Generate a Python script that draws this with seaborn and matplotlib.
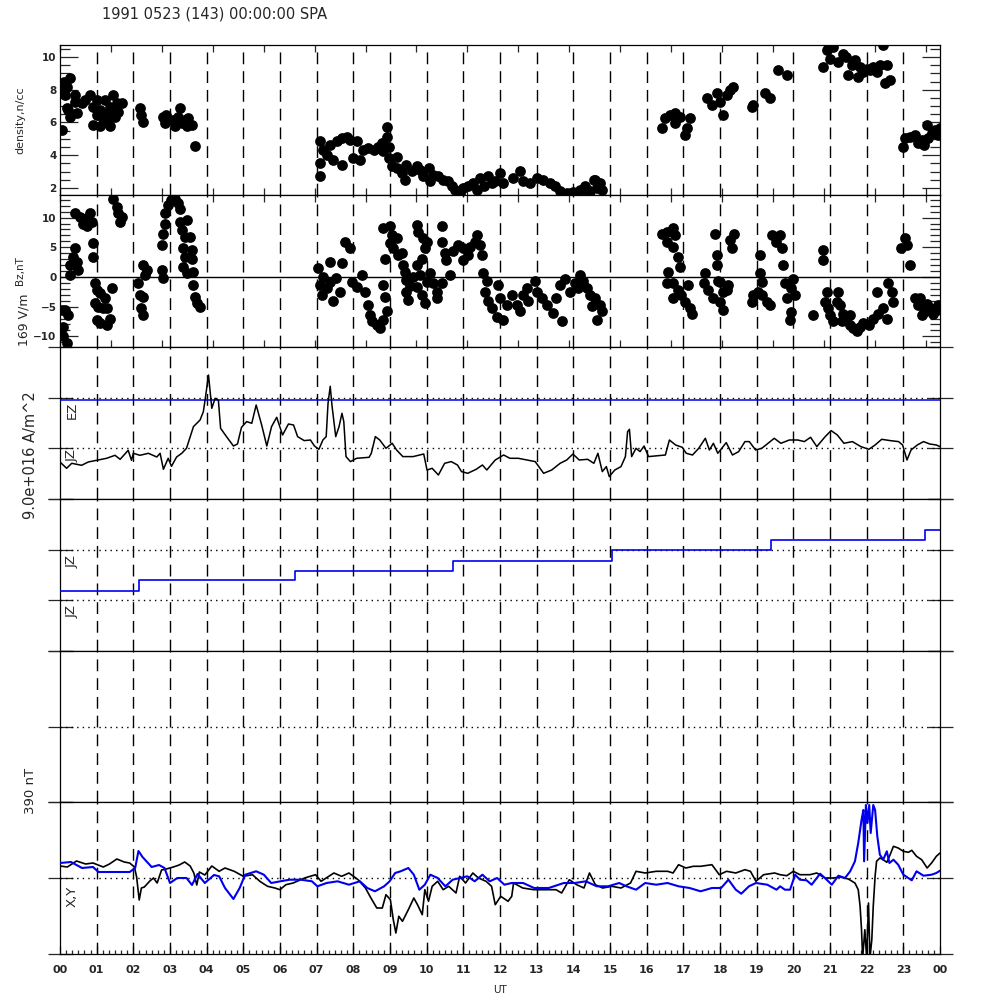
import matplotlib
matplotlib.use("Agg")
import matplotlib.pyplot as plt
import seaborn as sns
import numpy as np

sns.set_theme(style="white")
plt.rcParams['font.family'] = ['DejaVu Sans']

# ---------------- data (hours UT) ----------------
dens_t = [0.05,0.05,0.1,0.18,0.27,0.22,0.27,0.41,0.45,0.41,0.18,0.13,
          0.82,0.68,0.59,1.0,0.91,1.0,0.91,1.09,1.18,1.09,1.23,1.36,1.36,1.45,1.55,1.59,1.5,1.68,1.32,1.27,
          2.18,2.22,2.27,
          2.82,2.86,2.9,3.08,3.13,3.27,3.23,3.32,3.41,3.5,3.59,3.45,3.68,
          7.09,7.09,7.09,7.18,7.27,7.36,7.45,7.55,7.68,7.68,7.82,7.91,8.0,8.09,8.18,8.27,8.41,8.55,8.68,8.77,
          8.82,8.91,8.93,8.96,8.96,9.05,9.18,9.18,9.32,9.41,9.45,9.59,9.73,9.82,9.91,10.05,10.09,10.18,10.32,
          10.45,10.59,10.68,10.77,10.91,11.0,11.14,11.27,11.36,11.45,11.55,11.68,11.77,11.86,12.0,12.09,12.36,
          12.55,12.64,12.82,13.0,13.18,13.36,13.5,13.64,13.82,14.0,14.18,14.32,14.45,14.59,14.73,14.77,14.36,
          14.55,14.64,
          16.41,16.5,16.64,16.77,16.77,16.91,17.05,17.09,17.18,
          17.64,17.77,17.91,18.0,18.09,18.18,18.27,18.36,18.86,18.9,19.23,19.36,19.59,19.82,
          20.82,20.91,21.0,21.09,21.23,21.36,21.45,21.5,21.59,21.68,21.77,21.82,21.91,22.0,22.09,22.18,22.27,
          22.36,22.45,22.5,22.55,22.64,
          23.0,23.05,23.18,23.32,23.41,23.5,23.55,23.64,23.68,23.77,23.86,23.95,24.0]
dens_v = [5.55,7.98,8.48,8.18,8.69,6.76,6.35,7.27,6.55,7.66,6.86,7.66,
          7.66,7.37,7.17,7.37,6.96,6.47,5.86,5.76,6.27,6.76,7.37,6.96,5.76,7.66,7.17,6.66,6.35,7.17,6.55,6.15,
          6.86,6.45,6.05,
          6.35,5.96,6.45,6.15,5.76,6.86,6.35,5.96,6.15,6.25,5.86,5.76,4.55,
          4.84,2.71,3.52,4.33,4.03,4.64,3.72,4.84,3.42,5.04,5.14,4.94,3.83,4.84,3.72,4.33,4.43,4.33,4.53,4.74,
          4.23,5.71,5.14,4.53,3.83,3.32,3.92,3.22,2.91,2.51,3.42,3.01,3.32,3.12,2.71,3.22,2.41,2.81,2.71,
          2.51,2.41,2.1,1.9,1.7,2.0,2.1,2.31,1.9,2.61,2.1,2.71,2.31,2.41,2.91,2.31,2.61,
          3.01,2.41,2.31,2.61,2.51,2.31,2.1,1.8,1.7,1.75,1.9,2.1,1.8,2.51,2.31,1.9,1.9,
          2.51,2.0,
          5.65,6.26,6.46,6.56,5.95,6.35,5.24,5.65,6.26,
          7.47,7.07,7.78,7.27,6.46,7.67,7.98,8.18,6.96,7.07,7.78,7.47,9.19,8.89,
          9.39,10.41,9.9,10.61,9.7,10.21,10.0,8.89,9.5,9.8,8.78,9.39,9.09,9.29,9.19,9.39,9.09,
          9.5,10.71,8.38,9.5,8.59,
          4.53,5.04,5.14,5.24,4.74,4.94,4.64,5.85,5.04,5.34,5.55,5.24,5.65]

bz_t = [0.05,0.13,0.09,0.09,0.18,0.22,0.27,0.27,0.36,0.41,0.45,0.5,0.41,0.55,0.64,0.73,0.82,0.86,0.73,
        0.91,0.91,0.95,1.0,1.09,0.95,1.04,1.18,1.0,1.09,1.27,1.36,1.23,1.41,1.27,1.45,1.55,1.59,1.64,1.68,
        2.14,2.18,2.27,2.22,2.27,2.27,2.32,2.36,
        2.77,2.82,2.77,2.82,2.86,2.86,2.95,3.04,3.13,3.23,3.27,3.27,3.32,3.41,3.45,3.54,3.59,3.36,3.41,3.36,
        3.45,3.64,3.64,3.68,3.73,3.82,3.59,
        7.04,7.09,7.14,7.18,7.27,7.36,7.36,7.45,7.54,7.68,7.64,7.77,7.9,7.95,8.09,8.23,8.32,8.41,8.45,8.5,
        8.64,8.73,8.82,8.91,8.86,8.82,8.86,8.82,9.0,9.05,9.0,9.09,9.18,9.23,9.32,9.36,9.41,9.45,9.45,9.5,
        9.54,9.64,9.73,9.77,9.91,10.0,9.95,9.86,9.73,9.82,9.73,9.86,9.95,10.0,10.09,10.18,10.27,10.27,10.41,
        10.41,10.41,10.5,10.54,10.64,10.73,10.86,11.0,11.0,11.14,11.18,11.32,11.36,11.45,11.5,11.54,11.64,
        11.59,11.68,11.77,11.91,12.09,12.0,11.95,12.18,12.32,12.45,12.55,12.64,12.73,12.77,12.95,13.0,13.14,
        13.27,13.45,13.54,13.64,13.68,13.77,13.91,14.04,14.18,14.27,14.36,14.45,14.59,14.73,14.77,14.64,
        14.5,14.14,
        16.41,16.55,16.73,16.77,16.55,16.73,16.86,16.91,16.59,16.55,16.73,16.86,16.95,17.13,16.73,17.04,
        17.18,17.23,17.86,17.91,17.91,18.37,18.27,18.32,17.59,17.55,17.68,17.82,18.0,18.09,18.18,18.23,
        18.0,18.09,17.95,
        19.09,19.09,19.14,19.04,18.86,18.91,19.14,19.27,19.36,19.41,19.54,19.64,19.68,19.73,19.77,19.82,
        19.95,19.91,20.0,19.95,20.05,
        20.54,20.82,20.82,20.91,20.86,20.95,21.0,21.09,21.23,21.27,21.36,21.45,21.55,21.64,21.73,21.82,
        21.91,22.05,22.18,22.32,22.27,22.45,22.55,22.59,22.68,22.73,21.18,21.32,21.55,
        22.95,23.05,23.09,23.18,23.32,23.41,23.45,23.55,23.64,23.73,23.82,23.91,23.95,23.5]
bz_v = [-5.6,-5.6,-8.35,-10.0,-11.2,-6.4,0.34,2.0,3.4,4.8,2.6,1.2,10.7,10.1,9.0,9.9,10.7,9.3,8.5,
        5.7,3.4,-1.1,-2.2,-2.7,-4.4,-5.0,-5.3,-7.2,-7.8,-8.1,-7.0,-3.6,-1.9,-5.3,13.2,11.8,10.7,9.3,10.1,
        -1.1,-3.0,-3.3,-5.3,-6.4,2.0,0.34,1.2,
        1.2,-0.2,5.4,7.3,9.0,10.7,12.1,13.0,13.2,12.4,11.5,9.3,7.9,6.8,9.6,6.8,4.5,4.8,3.4,1.7,
        0.6,0.9,-1.3,-3.3,-4.4,-5.0,3.1,
        1.46,-1.34,-3.0,0.04,-1.9,2.6,-0.8,-4.1,-0.2,2.3,-2.5,5.9,4.8,-0.8,-1.7,0.3,-2.5,-4.7,-6.4,-7.5,
        -8.1,-8.6,-7.2,-5.8,-3.3,-1.3,3.1,8.2,8.5,7.1,5.7,4.8,6.5,3.7,4.0,2.0,0.9,-0.5,-2.5,-3.9,
        -1.6,0.04,8.7,7.6,6.5,5.9,4.8,3.1,2.0,0.3,-1.7,-3.0,-4.4,-0.8,0.6,-1.1,-2.5,-3.6,-1.1,
        8.5,5.9,4.0,2.9,0.3,4.3,5.4,2.9,4.8,3.7,5.1,5.9,7.1,5.4,3.7,0.6,-0.6,
        -2.5,-4.1,-5.3,-6.7,-7.2,-3.6,-1.3,-4.7,-3.0,-4.7,-5.8,-3.0,-1.9,-4.1,-0.6,-2.5,-3.6,
        -4.7,-6.1,-3.6,-1.3,-7.5,-0.3,-2.5,-1.1,0.3,-0.6,-1.9,-3.0,-3.6,-4.7,-5.8,-7.2,
        -4.9,-1.9,
        7.3,7.6,8.2,7.1,5.9,5.1,3.4,1.7,0.9,-1.1,-1.1,-2.2,-3.1,-1.4,-3.6,-4.2,
        -5.3,-6.2,7.3,3.7,2.0,7.3,6.2,4.8,0.6,-1.1,-2.2,-3.6,-0.8,-2.5,-2.2,-1.4,
        -4.2,-5.6,-0.6,
        3.7,0.6,-0.8,-2.5,-4.2,-3.1,-3.1,-4.2,-4.8,7.1,5.9,7.1,4.8,2.0,-1.1,-3.6,
        -5.9,-7.2,-0.3,-1.9,-3.1,
        -6.4,4.5,2.8,-2.5,-4.2,-5.3,-6.4,-7.5,-2.5,-4.8,-6.2,-7.0,-8.1,-8.6,-9.1,-8.4,
        -7.8,-8.1,-7.0,-6.2,-2.5,-5.3,-7.0,-1.1,-2.5,-4.2,-4.2,-7.5,-6.4,
        4.8,6.5,5.4,2.0,-3.6,-4.8,-3.6,-5.9,-4.5,-5.3,-6.2,-5.6,-4.8,-6.4]

# JZ trace (panel 3, units: one division = 50.7)
jz_t = [0,0.18,0.32,0.59,0.77,1.0,1.27,1.5,1.64,1.86,1.95,2.0,2.18,2.41,2.64,2.73,2.82,2.95,3.04,3.18,
        3.32,3.45,3.64,3.82,3.91,3.97,4.05,4.14,4.23,4.32,4.38,4.54,4.73,4.84,4.95,5.09,5.23,5.35,5.5,5.64,
        5.77,5.91,6.07,6.23,6.37,6.48,6.66,6.83,6.94,7.06,7.17,7.26,7.31,7.37,7.42,7.52,7.61,7.69,7.74,7.8,
        7.92,8.09,8.43,8.49,8.6,8.72,8.89,9.06,9.18,9.35,9.63,9.92,10.01,10.15,10.32,10.49,10.67,10.84,10.95,
        11.12,11.35,11.52,11.64,11.87,12.1,12.27,12.5,12.73,12.96,13.19,13.41,13.64,13.82,13.99,14.16,14.39,
        14.56,14.67,14.79,14.9,14.98,15.13,15.3,15.42,15.48,15.53,15.59,15.71,15.82,15.93,16.05,16.22,16.51,
        16.62,16.79,16.97,17.08,17.25,17.42,17.6,17.71,17.82,17.94,18.17,18.34,18.51,18.68,18.8,18.97,19.14,
        19.31,19.48,19.66,19.89,20.12,20.3,20.47,20.64,20.87,21.03,21.2,21.38,21.61,21.84,22.06,22.23,22.41,
        22.64,22.87,22.98,23.1,23.21,23.38,23.55,23.72,23.9,24.0]
jz_v = [-13.7,-20,-15,-17,-13.7,-12,-10,-7,-11,-2,-12,-5,-7,-5,-8.7,-5,-21,-10,-18,-8.7,
        -5,0,21.7,28.3,36.7,51.7,73.3,40,50,48,20,11.7,2.3,4.3,21,26.7,25,43.3,23.3,2.3,
        21.7,31,13.3,24.3,23.3,11.7,7.7,8.3,2.3,-1,8.3,11.7,45,62,42,11.7,21.7,35,26.7,-8.3,
        -13.3,-10,-9,-5,11.7,8.3,0,5,-1.7,-8.3,-8.3,-5.7,-21.7,-20,-26.7,-15,-13.3,-16.7,-23.3,
        -25,-21,-16.7,-21.7,-11.7,-6.7,-10,-10,-11.7,-13.3,-25,-21.7,-15,-11.7,-5.7,-11.7,-11,
        -15,-5,-23.3,-18.3,-28.3,-21.7,-18.3,-8.3,16.7,19,-8.3,0,-3.3,2.3,-8.3,-7.7,-6.7,
        8.3,3.3,1,-5,-6.7,0,10,-1.7,5,-5,5.7,-6.7,-3.3,6.7,6.7,-1.7,0,
        5,10,5,8.3,8.3,6.7,11,1.7,11.7,17.7,13.3,5,6.7,1.7,-1,3.3,9,
        7.7,6.7,3.3,-11.7,-1.7,3.3,6.7,4.3,3.3,1.7]
ez_level = 48.7

# JZ step trace (panel 4, units: divisions)
step_t = [0, 2.15, 6.41, 10.72, 15.05, 19.39, 23.6, 24.0]
step_v = [1.18, 1.40, 1.58, 1.78, 1.99, 2.19, 2.39, 2.39]

# X (black) and Y (blue) magnetometer traces (panel 6, 76 units = 390 nT)
bx_t = [0.0,0.2,0.45,0.7,0.9,1.18,1.35,1.55,1.75,1.9,2.03,2.09,2.16,2.22,2.3,2.45,2.55,2.65,2.77,2.9,
        3.09,3.25,3.4,3.55,3.65,3.73,3.8,3.95,4.14,4.34,4.5,4.75,5.0,5.25,5.45,5.66,5.86,6.0,6.16,6.36,
        6.67,6.97,7.12,7.47,7.68,7.88,8.13,8.33,8.48,8.64,8.79,8.89,9.01,9.09,9.16,9.24,9.34,9.5,9.65,9.75,
        9.88,9.95,10.05,10.15,10.3,10.45,10.6,10.8,10.9,11.06,11.26,11.41,11.62,11.77,11.87,12.02,12.22,
        12.32,12.37,12.62,12.92,13.22,13.53,13.68,13.89,14.09,14.29,14.44,14.6,14.8,15.05,15.3,15.56,15.71,
        15.96,16.26,16.57,16.72,16.87,17.07,17.27,17.47,17.78,17.98,18.18,18.43,18.68,18.83,18.98,19.19,
        19.49,19.64,19.82,20.0,20.18,20.45,20.64,20.86,21.09,21.27,21.5,21.68,21.77,21.82,21.86,21.89,21.95,
        22.0,22.05,22.09,22.14,22.18,22.23,22.27,22.36,22.45,22.55,22.64,22.73,22.86,23.0,23.14,23.23,23.36,
        23.5,23.65,23.77,23.9,24.0]
bx_v = [12,11,17,14,15,11,14,19,16,15,11,1,-22,-10,-9,-3,0,-5,8,9,
        11,13,16,12,5,-7,6,3,12,6.7,10,6.7,1.7,3.3,-3.3,-8.3,-10,-11.7,-6.7,-5,
        0,3.3,-3.3,5,1.7,5,-1.7,-10,-20,-30,-30,-16.7,-21.7,-41.7,-55,-38.3,-43.3,-31.7,-20,-26.7,
        -36.7,-11.7,-23.3,-8.3,-3.3,-11.7,-8.3,-15,1.7,-5,5,0,-3.3,-8.3,-26.7,-18.3,-23.3,
        -18.3,-5,-10,-11.7,-11.7,-11.7,-15,-1.7,-6.7,-10,5,-6.7,-10,-8.3,-10,-5,6.7,
        5,6.7,6.7,5,13.3,10,11.7,11.7,13.3,3.3,6.7,5,8.3,6.7,-3.3,3.3,
        5,3.3,2.3,6.7,3.3,3.3,5,0,0,1,-1,-5,-11.7,-28,-51.7,-80,-51.7,
        -80,-25,-80,-61.7,-28,1.7,16.7,20,18.3,15.7,23.3,31.7,30,26.7,25.7,27.7,21.7,
        18.3,10,15,21.7,25]
by_t = [0.0,0.3,0.6,0.9,1.05,1.5,1.9,2.05,2.14,2.25,2.4,2.5,2.7,2.85,3.0,3.2,3.45,3.6,3.75,3.95,
        4.2,4.34,4.5,4.73,4.9,5.05,5.35,5.56,5.76,6.01,6.26,6.57,6.87,7.02,7.27,7.57,7.88,8.18,8.38,8.59,
        8.84,8.99,9.14,9.29,9.5,9.65,9.8,9.95,10.1,10.3,10.51,10.71,10.91,11.11,11.31,11.52,11.72,11.92,
        12.12,12.32,12.63,12.93,13.33,13.74,14.04,14.34,14.64,14.95,15.25,15.45,15.71,15.96,16.26,16.57,
        16.87,17.17,17.47,17.78,18.03,18.23,18.43,18.58,18.79,18.98,19.29,19.54,19.64,19.77,19.91,20.05,
        20.18,20.36,20.5,20.73,20.86,21.05,21.23,21.41,21.55,21.68,21.77,21.86,21.91,21.93,21.98,22.02,
        22.07,22.11,22.18,22.23,22.29,22.36,22.45,22.55,22.62,22.73,22.86,23.0,23.23,23.36,23.55,23.77,
        23.9,24.0]
by_v = [15,16,10,11,6,6,6,10,27,21,15,11,13,10,-5,0,0,-7,4,-5,
        3,1.7,-10,-21,-10,3.3,6.7,3.3,-5,-3.3,-1.7,-1.7,-3.3,-8.3,-5,-3.3,-6.7,-3.3,-10,-13.3,
        -8.3,-3.3,5,6.7,10,3.3,-11.7,-6.7,3.3,0,-8.3,-1.7,0,1.7,-3.3,3.3,-3.3,0,
        -6.7,-5,-5,-10,-10,-5,-5,-3.3,-8.3,-8.3,-5,-8.3,-11.7,-5,-6.7,-5,
        -8.3,-10,-13.3,-10,-10,-1.7,-11.7,-15.7,-8.3,-5,-6.7,-11.7,-8.3,-11.7,-11.7,3.3,
        -1.7,-2.3,-6.7,4.3,0,-6.7,2.3,0,6.7,16.7,35,58,68,16.7,73,55,
        73,45,73,68,41.7,23.3,18.3,26.7,15,18.3,13.3,3.3,-2.3,6.7,2.3,3.3,
        5,7.3]

hour_labels = ["00","01","02","03","04","05","06","07","08","09","10","11",
               "12","13","14","15","16","17","18","19","20","21","22","23","00"]

# ---------------- figure ----------------
fig = plt.figure(figsize=(10, 10), dpi=100)
fig.patch.set_facecolor("white")

def add_panel(top, bottom):
    ax = fig.add_axes([0.06, 1 - bottom / 1000.0, 0.88, (bottom - top) / 1000.0])
    ax.set_facecolor("white")
    ax.set_xlim(0, 24)
    for s in ax.spines.values():
        s.set_color("black")
        s.set_linewidth(0.9)
        s.set_visible(True)
    return ax

ax1 = add_panel(45, 195)
ax2 = add_panel(195, 347)
ax3 = add_panel(347, 499)
ax4 = add_panel(499, 651)
ax5 = add_panel(651, 802)
ax6 = add_panel(802, 954)
axes = [ax1, ax2, ax3, ax4, ax5, ax6]

dash = (0, (8.5, 5))
dot = (0, (1, 3))
for ax in axes:
    for h in range(1, 24):
        ax.axvline(h, color="black", lw=1.0, ls=dash, zorder=1)

# panel 1: density
sns.scatterplot(x=dens_t, y=dens_v, ax=ax1, color="black", s=60, linewidth=0, zorder=3)
ax1.set_ylim(1.57, 10.73)
ax1.set_yticks([2, 4, 6, 8, 10])
ax1.set_yticks(np.arange(2, 10.6, 0.5), minor=True)

# panel 2: Bz
ax2.axhline(0, color="black", lw=1.0, zorder=2)
sns.scatterplot(x=bz_t, y=bz_v, ax=ax2, color="black", s=60, linewidth=0, zorder=3)
ax2.set_ylim(-11.8, 13.8)
ax2.set_yticks([-10, -5, 0, 5, 10])
ax2.set_yticks(np.arange(-11, 14, 1), minor=True)

for ax in (ax1, ax2):
    ax.tick_params(axis="y", which="major", direction="in", length=13, width=0.9,
                   left=True, right=True, labelsize=7.5, pad=2.5)
    ax.tick_params(axis="y", which="minor", direction="in", length=7, width=0.9,
                   left=True, right=True)
    for lab in ax.get_yticklabels():
        lab.set_fontweight("bold")
    ax.set_xticks(np.arange(0, 24.01, 5000 / 3600.0))
    ax.tick_params(axis="x", which="major", direction="in", length=5, width=0.9,
                   top=True, bottom=True, labelbottom=False)
    ax.set_xlabel("")
    ax.set_ylabel("")

# panel 3: EZ / JZ
ax3.set_ylim(-50.7, 101.3)
ax3.axhline(0, color="black", lw=1.0, ls=dot, zorder=2)
ax3.axhline(50.7, color="black", lw=1.0, ls=dot, zorder=2)
ax3.axhline(ez_level, color="#0000ee", lw=1.1, zorder=3)
sns.lineplot(x=jz_t, y=jz_v, ax=ax3, color="black", lw=1.1, estimator=None, sort=False, zorder=4)
ax3.set_yticks([-50.7, 0, 50.7, 101.3])

# panel 4: JZ step
ax4.set_ylim(0, 3)
ax4.axhline(1, color="black", lw=1.0, ls=dot, zorder=2)
ax4.axhline(2, color="black", lw=1.0, ls=dot, zorder=2)
sns.lineplot(x=step_t, y=step_v, ax=ax4, color="#0000ee", lw=1.2, estimator=None,
             sort=False, drawstyle="steps-post", zorder=4)
ax4.set_yticks([0, 1, 2, 3])

# panel 5: empty
ax5.set_ylim(-1, 1)
ax5.axhline(0, color="black", lw=1.0, ls=dot, zorder=2)
ax5.set_yticks([-1, 0, 1])

# panel 6: X, Y
ax6.set_ylim(-76, 76)
ax6.axhline(0, color="black", lw=1.0, ls=dot, zorder=2)
sns.lineplot(x=bx_t, y=bx_v, ax=ax6, color="black", lw=1.2, estimator=None, sort=False, zorder=4)
sns.lineplot(x=by_t, y=by_v, ax=ax6, color="#0000ee", lw=1.5, estimator=None, sort=False, zorder=5)
ax6.set_yticks([-76, 0, 76])

for ax in (ax3, ax4, ax5, ax6):
    ax.tick_params(axis="y", which="major", direction="inout", length=18, width=0.9,
                   left=True, right=True, labelleft=False)
    ax.set_xlabel("")
    ax.set_ylabel("")
    if ax is not ax6:
        ax.set_xticks([])

ax6.set_xticks(range(0, 25))
ax6.set_xticklabels(hour_labels)
ax6.set_xticks(np.arange(0, 24.01, 1 / 6.0), minor=True)
ax6.tick_params(axis="x", which="major", direction="in", length=6, width=0.9,
                bottom=True, top=False, labelsize=8, pad=8)
ax6.tick_params(axis="x", which="minor", direction="in", length=3, width=0.9,
                bottom=True, top=False)
for lab in ax6.get_xticklabels():
    lab.set_fontweight("bold")

# ---------------- texts ----------------
def ftxt(x, y, s, **kw):
    fig.text(x / 1000.0, 1 - y / 1000.0, s, **kw)

ftxt(102, 14, "1991 0523 (143) 00:00:00 SPA", fontsize=10.5, ha="left", va="center")
ftxt(20, 120, "density,n/cc", fontsize=8, rotation=90, ha="center", va="center")
ftxt(20, 271, "Bz,nT", fontsize=7.5, rotation=90, ha="center", va="center")
ftxt(24, 320, "169 V/m", fontsize=9, rotation=90, ha="center", va="center")
ftxt(31, 455, "9.0e+016 A/m^2", fontsize=10.5, rotation=90, ha="center", va="center")
ftxt(31, 791, "390 nT", fontsize=9.5, rotation=90, ha="center", va="center")
ftxt(72, 410, "EZ", fontsize=9.5, rotation=90, ha="center", va="center")
ftxt(72, 456, "JZ", fontsize=9.5, rotation=90, ha="center", va="center")
ftxt(72, 562, "JZ", fontsize=9.5, rotation=90, ha="center", va="center")
ftxt(72, 612, "JZ", fontsize=9.5, rotation=90, ha="center", va="center")
ftxt(72, 896, "X,Y", fontsize=9.5, rotation=90, ha="center", va="center")
ftxt(500, 990, "UT", fontsize=7.5, ha="center", va="center")

fig.savefig("out.png", dpi=100, facecolor="white")
